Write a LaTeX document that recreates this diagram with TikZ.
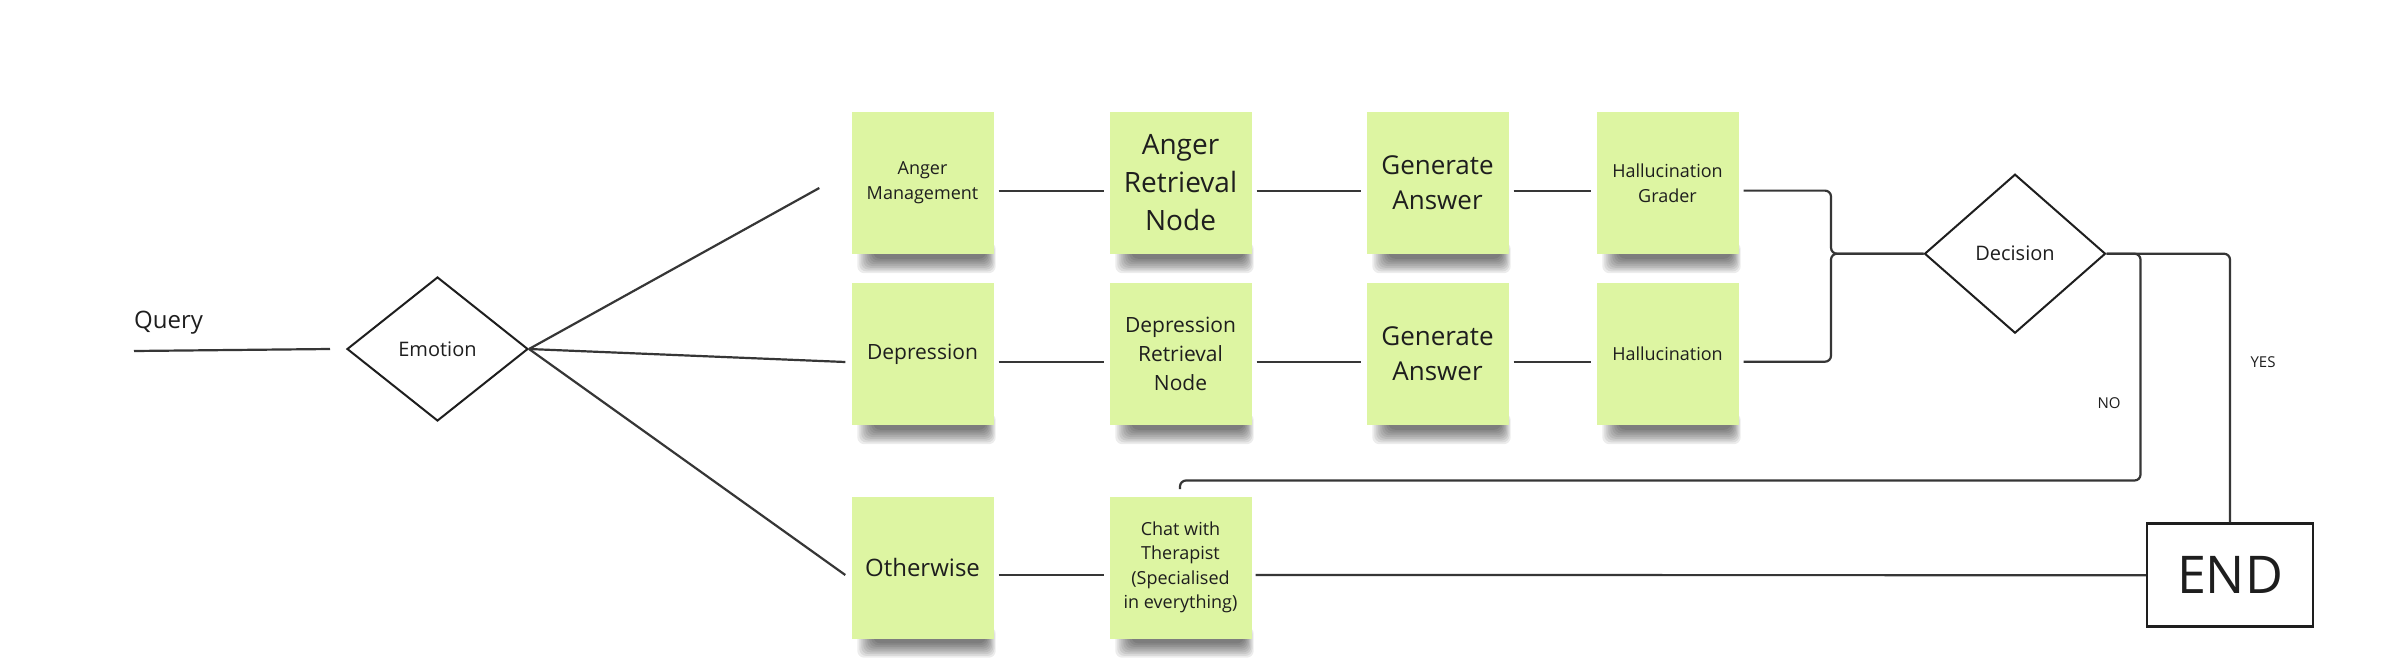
\documentclass[tikz,border=0pt]{standalone}
\usepackage{fontspec}
\setmainfont{Open Sans}
\usetikzlibrary{shapes.geometric,backgrounds}
\definecolor{sticky}{HTML}{DDF5A2}
\definecolor{ink}{HTML}{1E1E1E}
\definecolor{wire}{HTML}{363636}
\tikzset{
  stickynote/.style={fill=sticky, minimum width=142pt, minimum height=142pt, inner sep=3pt,
    align=center, text=ink},
  shadowlayer/.style={fill=black, opacity=0.075, rounded corners=7pt},
  decide/.style={diamond, draw=ink, line width=2pt, inner sep=0pt, text=ink,
    font=\fontsize{20}{24}\selectfont},
  conn/.style={draw=wire, line width=2.2pt},
  lbl/.style={text=ink, inner sep=0pt},
  fs/.style 2 args={font=\fontsize{#1}{#2}\selectfont}
}
\begin{document}
\begin{tikzpicture}[x=1pt,y=-1pt]
\useasboundingbox (0,0) rectangle (2390,664);

% texts and decisions
\node[lbl, anchor=base west, fs={24}{30}] (query) at (134,328) {Query};
\coordinate (qs) at (134,351);
\node[decide, minimum width=181pt, minimum height=144pt] (emo) at (437.5,349) {Emotion};

% stickies
\node[stickynote, fs={18}{25}] (am)  at (922.5,183) {Anger\\Management};
\node[stickynote, fs={28}{38}] (arn) at (1180.5,183) {Anger\\Retrieval\\Node};
\node[stickynote, fs={26}{35}] (ga1) at (1437.5,183) {Generate\\Answer};
\node[stickynote, fs={18}{25}] (hg)  at (1667.5,183) {Hallucination\\Grader};

\node[stickynote, fs={21}{29}] (dep) at (922.5,354) {Depression};
\node[stickynote, fs={21}{29}] (drn) at (1180.5,354) {Depression\\Retrieval\\Node};
\node[stickynote, fs={26}{35}] (ga2) at (1437.5,354) {Generate\\Answer};
\node[stickynote, fs={18}{25}] (hal) at (1667.5,354) {Hallucination};

\node[stickynote, fs={24}{30}] (oth)  at (922.5,567.5) {Otherwise};
\node[stickynote, fs={18}{24.5}] (chat) at (1180.5,567.5) {Chat with\\Therapist\\(Specialised\\in everything)};

\node[decide, minimum width=181pt, minimum height=159pt] (dec) at (2015,253.7) {Decision};
\node[draw=ink, line width=2.5pt, minimum width=166pt, minimum height=103pt, text=ink,
  fs={52}{60}] (endn) at (2230,575.2) {END};

\node[lbl, fs={15}{18}] (no)  at (2109,403) {NO};
\node[lbl, fs={15}{18}] (yes) at (2263,362) {YES};

% soft shadows under the sticky notes
\begin{scope}[on background layer]
  \fill[white] (0,0) rectangle (2390,664);
  \foreach \n in {am,arn,ga1,hg,dep,drn,ga2,hal,oth,chat}
    \foreach \k in {0,...,8}
      \fill[shadowlayer] ([xshift={(6+2*\k)*1pt},yshift=12pt]\n.south west)
        rectangle ([xshift={(2-1.2*\k)*1pt},yshift={-(19-1.8*\k)*1pt}]\n.south east);
\end{scope}

% connectors
\draw[conn] (qs) -- ([xshift=-16pt]emo.west);
\draw[conn] (emo.east) -- ([xshift=-32pt,yshift=-5pt]am.west);
\draw[conn] (emo.east) -- ([xshift=-6pt,yshift=-8pt]dep.west);
\draw[conn] (emo.east) -- ([xshift=-6pt,yshift=-7.5pt]oth.west);

\draw[conn] ([xshift=5pt,yshift=-7.6pt]am.east)  -- ([xshift=-5pt,yshift=-7.6pt]arn.west);
\draw[conn] ([xshift=5pt,yshift=-7.6pt]arn.east) -- ([xshift=-5pt,yshift=-7.6pt]ga1.west);
\draw[conn] ([xshift=5pt,yshift=-7.6pt]ga1.east) -- ([xshift=-5pt,yshift=-7.6pt]hg.west);
\draw[conn] ([xshift=5pt,yshift=-7.7pt]dep.east) -- ([xshift=-5pt,yshift=-7.7pt]drn.west);
\draw[conn] ([xshift=5pt,yshift=-7.7pt]drn.east) -- ([xshift=-5pt,yshift=-7.7pt]ga2.west);
\draw[conn] ([xshift=5pt,yshift=-7.7pt]ga2.east) -- ([xshift=-5pt,yshift=-7.7pt]hal.west);
\draw[conn] ([xshift=5pt,yshift=-7.5pt]oth.east) -- ([xshift=-5pt,yshift=-7.5pt]chat.west);

\draw[conn, rounded corners=6pt] ([xshift=5pt,yshift=-7.6pt]hg.east) -| ([xshift=-92.5pt]dec.west) -- (dec.west);
\draw[conn, rounded corners=6pt] ([xshift=5pt,yshift=-7.7pt]hal.east) -| ([xshift=-92.5pt]dec.west) -- (dec.west);

\draw[conn, rounded corners=6pt] (dec.east) -| (endn.north);
\coordinate (noturn) at (2140.5,480.5);
\coordinate (noend) at (1180,489);
\draw[conn, rounded corners=6pt] (dec.east) -| (noturn) -| (noend);

\draw[conn] ([xshift=4pt,yshift=-7.5pt]chat.east) -- (endn.west);
\end{tikzpicture}
\end{document}
